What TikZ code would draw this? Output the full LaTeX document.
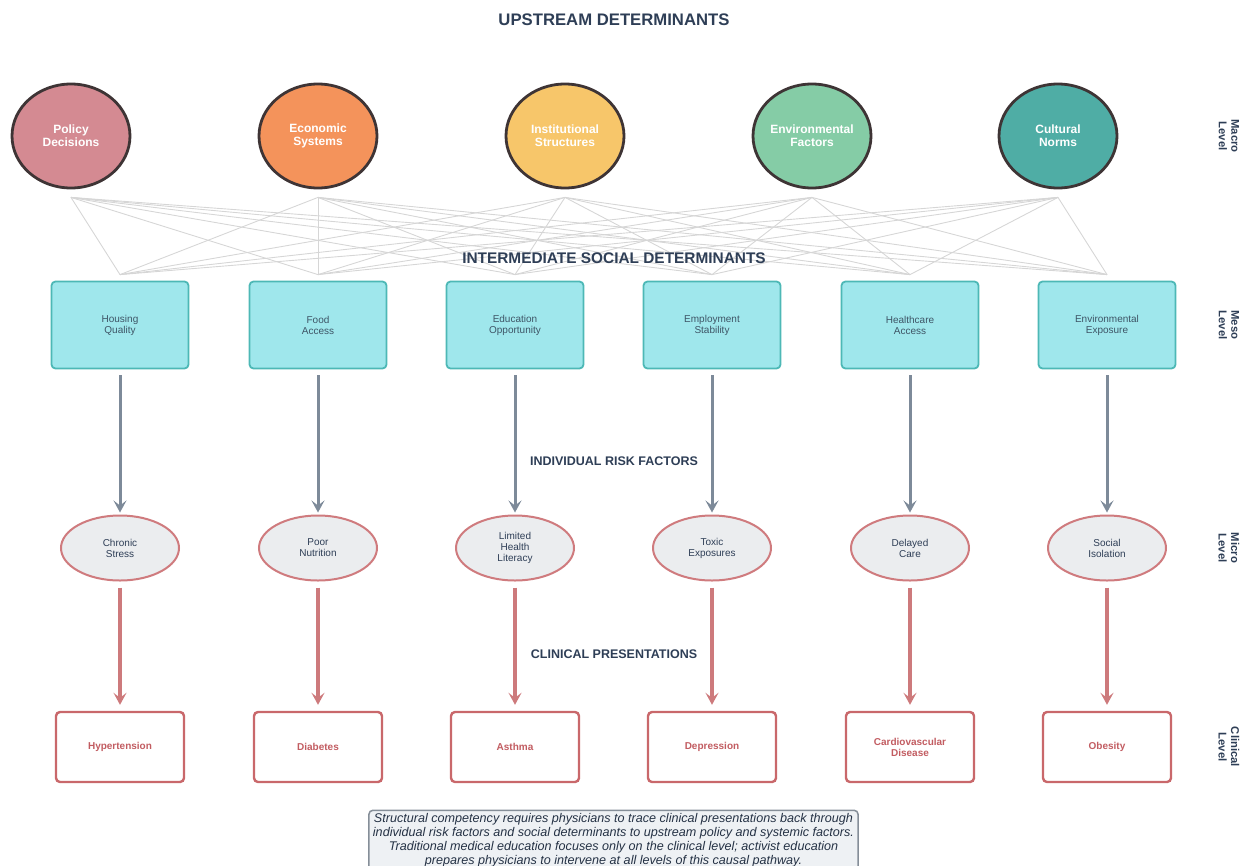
\documentclass[tikz,border=0pt]{standalone}
\usepackage{fontspec}
\setmainfont{Liberation Sans}
\usetikzlibrary{arrows.meta,shapes.geometric}
\definecolor{navy}{HTML}{2E3E56}
\definecolor{cpol}{HTML}{D48A92}
\definecolor{ceco}{HTML}{F4935B}
\definecolor{cins}{HTML}{F7C66A}
\definecolor{cenv}{HTML}{85CCA6}
\definecolor{ccul}{HTML}{4FADA5}
\definecolor{cring}{HTML}{3E3435}
\definecolor{mesofill}{HTML}{9FE7EC}
\definecolor{mesoline}{HTML}{4DB8B6}
\definecolor{mesotext}{HTML}{3E5566}
\definecolor{microfill}{HTML}{EBEDEF}
\definecolor{microline}{HTML}{CF7B7E}
\definecolor{slatearrow}{HTML}{7D8A99}
\definecolor{redarrow}{HTML}{CD7A7C}
\definecolor{clinline}{HTML}{C9686B}
\definecolor{clintext}{HTML}{C25C61}
\definecolor{capfill}{HTML}{EEF1F4}
\definecolor{capline}{HTML}{858E98}
\definecolor{fanline}{HTML}{D6D6D6}
\tikzset{
  macro/.style={ellipse, draw=cring, line width=2.8pt, minimum width=118pt, minimum height=104pt, inner sep=0pt, align=center, text=white, font=\fontsize{12}{13}\selectfont\bfseries},
  meso/.style={rectangle, rounded corners=4pt, draw=mesoline, line width=1.8pt, fill=mesofill, minimum width=137pt, minimum height=87pt, inner sep=0pt, align=center, text=mesotext, font=\fontsize{10}{11}\selectfont},
  micro/.style={ellipse, draw=microline, line width=2pt, fill=microfill, minimum width=118pt, minimum height=65pt, inner sep=0pt, align=center, text=navy, font=\fontsize{10}{11}\selectfont},
  clin/.style={rectangle, rounded corners=4pt, draw=clinline, line width=2.4pt, fill=white, minimum width=128pt, minimum height=70pt, inner sep=0pt, align=center, text=clintext, font=\fontsize{10}{11}\selectfont\bfseries},
  heading/.style={text=navy, font=\fontsize{12.5}{14}\selectfont\bfseries},
  sidelabel/.style={rotate=-90, align=center, text=navy, font=\fontsize{11.3}{12.5}\selectfont\bfseries},
  fan/.style={draw=fanline, line width=0.9pt},
  slatearr/.style={draw=slatearrow, line width=3pt, -{Stealth[length=12pt,width=13pt,inset=5pt]}},
  redarr/.style={draw=redarrow, line width=3.2pt, -{Stealth[length=12pt,width=13pt,inset=5pt]}},
  caption/.style={rectangle, rounded corners=4pt, draw=capline, line width=1.5pt, fill=capfill, align=center, text=navy!80!black, inner xsep=4pt, inner ysep=3.5pt, font=\fontsize{12.6}{13.8}\selectfont\itshape},
}
\begin{document}
\begin{tikzpicture}[x=1pt,y=-1pt]
\useasboundingbox (0,0) rectangle (1242,865);

\node[heading, font=\fontsize{16.7}{18}\selectfont\bfseries] (title) at (614,20) {UPSTREAM DETERMINANTS};

% macro circles
\node[macro, fill=cpol] (m1) at (71,136) {Policy\\Decisions};
\node[macro, fill=ceco] (m2) at (318,136) {Economic\\Systems};
\node[macro, fill=cins] (m3) at (565,136) {Institutional\\Structures};
\node[macro, fill=cenv] (m4) at (812,136) {Environmental\\Factors};
\node[macro, fill=ccul] (m5) at (1058,136) {Cultural\\Norms};

% meso rectangles
\node[meso] (s1) at (120,325) {Housing\\Quality};
\node[meso] (s2) at (318,325) {Food\\Access};
\node[meso] (s3) at (515,325) {Education\\Opportunity};
\node[meso] (s4) at (712,325) {Employment\\Stability};
\node[meso] (s5) at (910,325) {Healthcare\\Access};
\node[meso] (s6) at (1107,325) {Environmental\\Exposure};

% fan lines
\foreach \i in {1,...,5}{
  \foreach \j in {1,...,6}{
    \draw[fan] ([yshift=-8pt]m\i.south) -- ([yshift=6pt]s\j.north);
  }
}

\node[heading, font=\fontsize{15.4}{17}\selectfont\bfseries] (inter) at (614,258) {INTERMEDIATE SOCIAL DETERMINANTS};

% micro ellipses
\node[micro] (r1) at (120,548) {Chronic\\Stress};
\node[micro] (r2) at (318,548) {Poor\\Nutrition};
\node[micro] (r3) at (515,548) {Limited\\Health\\Literacy};
\node[micro] (r4) at (712,548) {Toxic\\Exposures};
\node[micro] (r5) at (910,548) {Delayed\\Care};
\node[micro] (r6) at (1107,548) {Social\\Isolation};

\node[heading] (indiv) at (614,461) {INDIVIDUAL RISK FACTORS};

% clinical boxes
\node[clin] (c1) at (120,747) {Hypertension};
\node[clin] (c2) at (318,747) {Diabetes};
\node[clin] (c3) at (515,747) {Asthma};
\node[clin] (c4) at (712,747) {Depression};
\node[clin] (c5) at (910,747) {Cardiovascular\\Disease};
\node[clin] (c6) at (1107,747) {Obesity};

\node[heading] (clinh) at (614,654) {CLINICAL PRESENTATIONS};

\foreach \j in {1,...,6}{
  \draw[slatearr] ([yshift=-6pt]s\j.south) -- ([yshift=2pt]r\j.north);
  \draw[redarr] ([yshift=-6pt]r\j.south) -- ([yshift=6pt]c\j.north);
}

% side labels
\node[sidelabel] (lmacro) at (1229,136) {Macro\\Level};
\node[sidelabel] (lmeso) at (1229,325) {Meso\\Level};
\node[sidelabel] (lmicro) at (1229,548) {Micro\\Level};
\node[sidelabel] (lclin) at (1229,747) {Clinical\\Level};

% caption
\node[caption, anchor=north] (cap) at (613.5,809.5) {Structural competency requires physicians to trace clinical presentations back through\\individual risk factors and social determinants to upstream policy and systemic factors.\\Traditional medical education focuses only on the clinical level; activist education\\prepares physicians to intervene at all levels of this causal pathway.};
\end{tikzpicture}
\end{document}
